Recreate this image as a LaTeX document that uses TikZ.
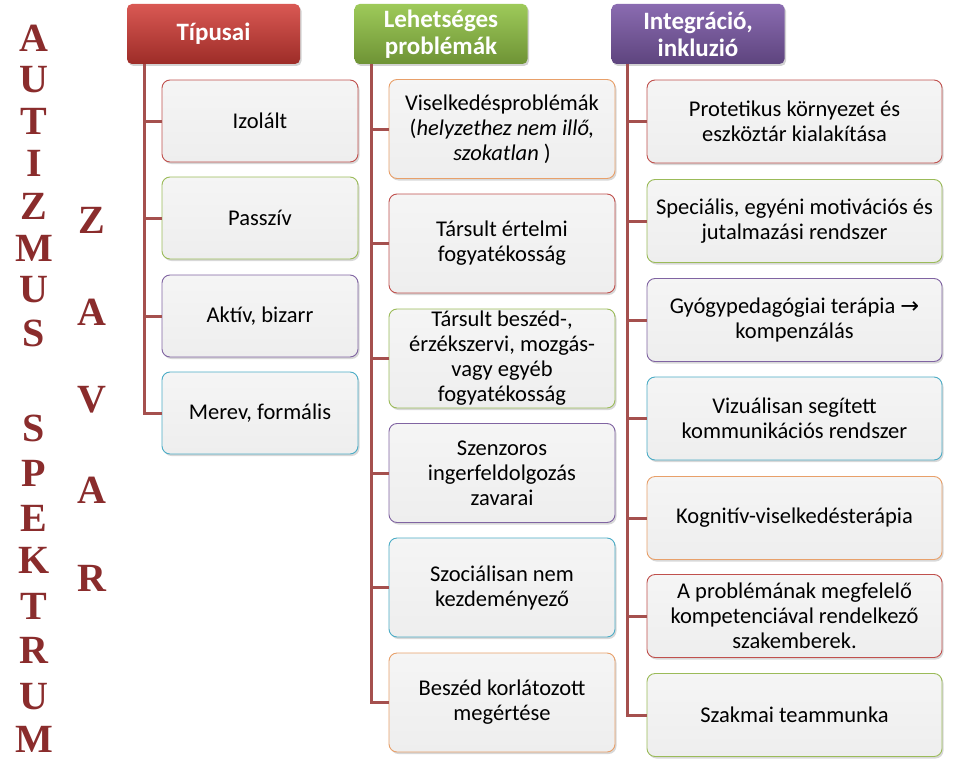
\documentclass[tikz,border=0pt]{standalone}
\usepackage{fontspec}
\setmainfont{Carlito}
\newfontfamily\capsfont{Liberation Serif}
\newfontfamily\symfont{DejaVu Sans}
\usetikzlibrary{shadows}

\definecolor{accred}{HTML}{C0504D}
\definecolor{accgreen}{HTML}{9BBB59}
\definecolor{accpurple}{HTML}{8064A2}
\definecolor{accblue}{HTML}{4BACC6}
\definecolor{accorange}{HTML}{E8A06A}
\definecolor{trunkred}{HTML}{A5504E}
\definecolor{boxgray}{HTML}{EEEEEE}
\definecolor{lettred}{HTML}{8A2C2C}
\definecolor{hdrred}{HTML}{D23B35}
\definecolor{hdrgreen}{HTML}{93C447}
\definecolor{hdrpurple}{HTML}{7D5BA8}

\tikzset{
  hdr/.style={rounded corners=5pt, minimum width=173pt, minimum height=60pt,
    align=center, text=white, inner sep=1pt,
    font=\fontsize{25}{27}\selectfont\bfseries,
    drop shadow={shadow xshift=1.5pt, shadow yshift=-2pt, opacity=0.35}},
  item/.style={draw=#1, line width=0.9pt, rounded corners=8pt,
    top color=white!96!black, bottom color=boxgray, align=center,
    inner xsep=3pt, inner ysep=0pt, font=\fontsize{22.5}{25}\selectfont,
    drop shadow={shadow xshift=1.5pt, shadow yshift=-2pt, opacity=0.3}},
  colA/.style={item=#1, minimum width=196pt, minimum height=82pt},
  colB/.style={item=#1, minimum width=226pt, minimum height=99pt},
  colC/.style={item=#1, minimum width=295pt, minimum height=83pt},
  trunk/.style={draw=trunkred, line width=3pt},
  letter/.style={text=lettred, font=\capsfont\bfseries\fontsize{40}{40}\selectfont, inner sep=0pt}
}

\begin{document}
\begin{tikzpicture}[x=1pt, y=-1pt]
  \useasboundingbox[fill=white] (0,0) rectangle (966,768);

  % big letters on the left
  \foreach \l/\y [count=\i] in {A/38,U/80,T/121,I/163,Z/206,M/248,U/290,S/333,S/428,P/473,E/518,K/560,T/606,R/650,U/697,M/739}
    \node[letter] (a\i) at (34,\y) {\l};
  \foreach \l/\y [count=\i] in {Z/220,A/312,V/400,A/490,R/578}
    \node[letter] (z\i) at (92,\y) {\l};

  % headers
  \node[hdr, top color=hdrred!85!white, bottom color=hdrred!75!black] (t0) at (213.5,34) {Típusai};
  \node[hdr, top color=hdrgreen!90!white, bottom color=hdrgreen!75!black] (p0) at (441,34) {Lehetséges\\problémák};
  \node[hdr, top color=hdrpurple!90!white, bottom color=hdrpurple!75!black] (i0) at (698,34) {Integráció,\\inkluzió};

  % first column
  \node[colA=accred]    (t1) at (260,121) {Izolált};
  \node[colA=accgreen]  (t2) at (260,218) {Passzív};
  \node[colA=accpurple] (t3) at (260,316) {Aktív, bizarr};
  \node[colA=accblue]   (t4) at (260,413) {Merev, formális};

  % second column
  \node[colB=accorange] (p1) at (502,129) {Viselkedésproblémák\\(\textit{helyzethez nem illő,}\\\textit{szokatlan} )};
  \node[colB=accred]    (p2) at (502,243.5) {Társult értelmi\\fogyatékosság};
  \node[colB=accgreen]  (p3) at (502,358.5) {Társult beszéd-,\\érzékszervi, mozgás-\\vagy egyéb\\fogyatékosság};
  \node[colB=accpurple] (p4) at (502,473) {Szenzoros\\ingerfeldolgozás\\zavarai};
  \node[colB=accblue]   (p5) at (502,587.5) {Szociálisan nem\\kezdeményező};
  \node[colB=accorange] (p6) at (502,702.5) {Beszéd korlátozott\\megértése};

  % third column
  \node[colC=accred]    (i1) at (794.5,121.5) {Protetikus környezet és\\eszköztár kialakítása};
  \node[colC=accgreen]  (i2) at (794.5,221) {Speciális, egyéni motivációs és\\jutalmazási rendszer};
  \node[colC=accpurple] (i3) at (794.5,320) {Gyógypedagógiai terápia {\symfont →}\\kompenzálás};
  \node[colC=accblue]   (i4) at (794.5,418.5) {Vizuálisan segített\\kommunikációs rendszer};
  \node[colC=accorange] (i5) at (794.5,518) {Kognitív-viselkedésterápia};
  \node[colC=accred]    (i6) at (794.5,616) {A problémának megfelelő\\kompetenciával rendelkező\\szakemberek.};
  \node[colC=accgreen]  (i7) at (794.5,715) {Szakmai teammunka};

  % trunk lines
  \foreach \n in {1,...,4}
    \draw[trunk] ([xshift=18pt]t0.south west) |- (t\n.west);
  \foreach \n in {1,...,6}
    \draw[trunk] ([xshift=17pt]p0.south west) |- (p\n.west);
  \foreach \n in {1,...,7}
    \draw[trunk] ([xshift=16pt]i0.south west) |- (i\n.west);
\end{tikzpicture}
\end{document}
